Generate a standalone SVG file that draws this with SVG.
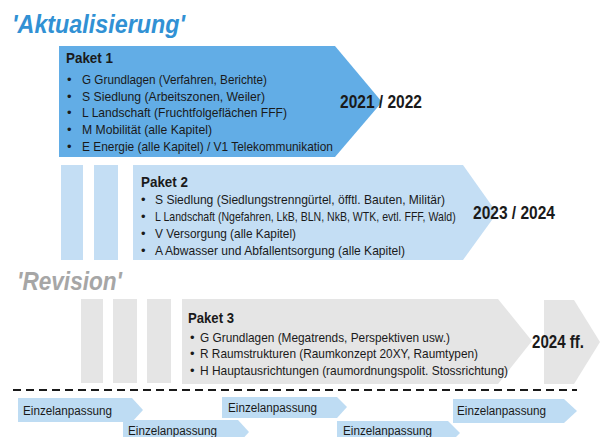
<svg xmlns="http://www.w3.org/2000/svg" width="600" height="437" viewBox="0 0 600 437">
<style>
text{font-family:"Liberation Sans",Arial,sans-serif;fill:#1a1a1a}
.p1{fill:#62ade6}
.p2{fill:#c4def4}
.p3{fill:#e5e5e5}
.ea{fill:#bedcf3}
.body{font-size:13px}
.ttl{font-size:15px;font-weight:bold}
.yr{font-size:18px;font-weight:bold}
.ez{font-size:12.5px}
.h1{font-size:25px;font-weight:bold;font-style:italic}
</style>
<rect width="600" height="437" fill="#ffffff"/>
<text class="h1" x="12" y="33" textLength="173" lengthAdjust="spacingAndGlyphs" style="fill:#3191d4">'Aktualisierung'</text>
<text class="h1" x="17" y="290" textLength="105" lengthAdjust="spacingAndGlyphs" style="fill:#a6a6a6">'Revision'</text>

<g id="paket1">
<path class="p1" d="M59,46 L335,46 L382,102 L335,157 L59,157 Z"/>
<text class="ttl" x="66" y="63" textLength="47" lengthAdjust="spacingAndGlyphs">Paket 1</text>
<g class="body">
<text x="67" y="84">•</text><text x="82" y="84" textLength="185" lengthAdjust="spacingAndGlyphs">G Grundlagen  (Verfahren, Berichte)</text>
<text x="67" y="101">•</text><text x="82" y="101" textLength="183" lengthAdjust="spacingAndGlyphs">S Siedlung  (Arbeitszonen,  Weiler)</text>
<text x="67" y="117">•</text><text x="82" y="117" textLength="205" lengthAdjust="spacingAndGlyphs">L Landschaft (Fruchtfolgeflächen FFF)</text>
<text x="67" y="134">•</text><text x="82" y="134" textLength="130" lengthAdjust="spacingAndGlyphs">M Mobilität  (alle Kapitel)</text>
<text x="67" y="151">•</text><text x="82" y="151" textLength="251" lengthAdjust="spacingAndGlyphs">E Energie (alle Kapitel) / V1 Telekommunikation</text>
</g>
<text class="yr" x="340" y="108" textLength="82" lengthAdjust="spacingAndGlyphs">2021 / 2022</text>
</g>

<g id="paket2">
<rect class="p2" x="61" y="165" width="22" height="95"/>
<rect class="p2" x="94" y="165" width="24" height="95"/>
<path class="p2" d="M133,165 L463,165 L497,213 L463,260 L133,260 Z"/>
<text class="ttl" x="141" y="187" textLength="47" lengthAdjust="spacingAndGlyphs">Paket 2</text>
<g class="body">
<text x="141" y="204">•</text><text x="155" y="204" textLength="290" lengthAdjust="spacingAndGlyphs">S Siedlung  (Siedlungstrenngürtel,  öfftl. Bauten,  Militär)</text>
<text x="141" y="221">•</text><text transform="translate(155,221) scale(0.813,1)" x="0" y="0">L Landschaft (Ngefahren, LkB, BLN, NkB, WTK, evtl. FFF, Wald)</text>
<text x="141" y="238">•</text><text x="155" y="238" textLength="141" lengthAdjust="spacingAndGlyphs">V Versorgung (alle Kapitel)</text>
<text x="141" y="255">•</text><text x="155" y="255" textLength="250" lengthAdjust="spacingAndGlyphs">A Abwasser und Abfallentsorgung (alle Kapitel)</text>
</g>
<text class="yr" x="473" y="219" textLength="82" lengthAdjust="spacingAndGlyphs">2023 / 2024</text>
</g>

<g id="paket3">
<rect class="p3" x="81" y="299" width="22" height="84"/>
<rect class="p3" x="113" y="299" width="24" height="84"/>
<rect class="p3" x="147" y="299" width="24" height="84"/>
<path class="p3" d="M182,299 L498,299 L532,341 L498,384 L182,384 Z"/>
<path class="p3" d="M544,300 L574,300 L600,342 L574,384 L544,384 Z"/>
<text class="ttl" x="188" y="323" textLength="46" lengthAdjust="spacingAndGlyphs">Paket 3</text>
<g class="body">
<text x="190" y="342">•</text><text x="200" y="342" textLength="250" lengthAdjust="spacingAndGlyphs">G Grundlagen  (Megatrends,  Perspektiven usw.)</text>
<text x="190" y="358">•</text><text x="200" y="358" textLength="278" lengthAdjust="spacingAndGlyphs">R Raumstrukturen (Raumkonzept  20XY,  Raumtypen)</text>
<text x="190" y="375">•</text><text x="200" y="375" textLength="308" lengthAdjust="spacingAndGlyphs">H Hauptausrichtungen   (raumordnungspolit.  Stossrichtung)</text>
</g>
<text class="yr" x="532" y="348" textLength="52" lengthAdjust="spacingAndGlyphs">2024 ff.</text>
</g>

<g id="connectors">
<line x1="13" y1="390" x2="577" y2="390" stroke="#1a1a1a" stroke-width="2" stroke-dasharray="8 5"/>
</g>

<g id="einzel1">
<path class="ea" d="M18,398 L132,398 L143,410 L132,422 L18,422 Z"/>
<text class="ez" x="23" y="415" textLength="89" lengthAdjust="spacingAndGlyphs">Einzelanpassung</text>
</g>
<g id="einzel2">
<path class="ea" d="M123,420 L238,420 L249,432 L238,444 L123,444 Z"/>
<text class="ez" x="128" y="435" textLength="89" lengthAdjust="spacingAndGlyphs">Einzelanpassung</text>
</g>
<g id="einzel3">
<path class="ea" d="M222,397 L337,397 L347,407 L337,418 L222,418 Z"/>
<text class="ez" x="228" y="412" textLength="89" lengthAdjust="spacingAndGlyphs">Einzelanpassung</text>
</g>
<g id="einzel4">
<path class="ea" d="M337,421 L448,421 L460,433 L448,445 L337,445 Z"/>
<text class="ez" x="343" y="435" textLength="89" lengthAdjust="spacingAndGlyphs">Einzelanpassung</text>
</g>
<g id="einzel5">
<path class="ea" d="M453,399 L564,399 L577,411 L564,423 L453,423 Z"/>
<text class="ez" x="457" y="415" textLength="89" lengthAdjust="spacingAndGlyphs">Einzelanpassung</text>
</g>
</svg>
